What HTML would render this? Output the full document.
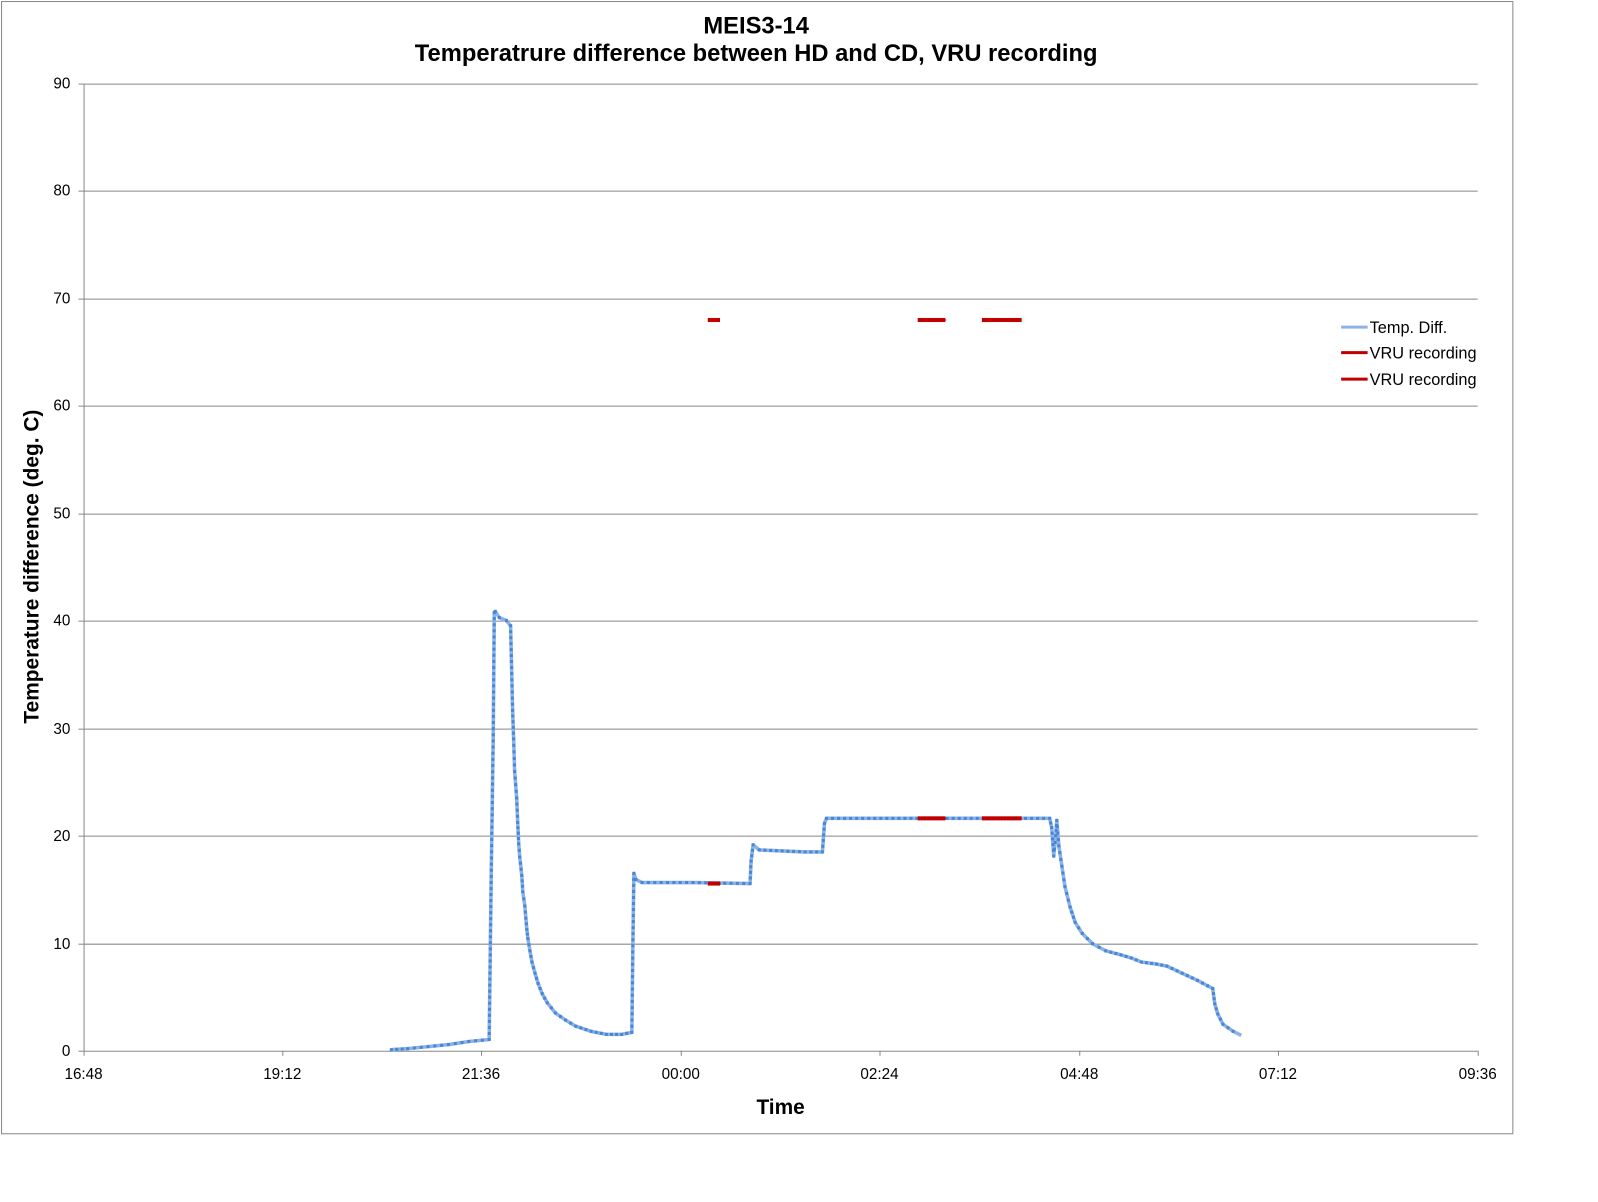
<!DOCTYPE html>
<html><head><meta charset="utf-8"><style>
body{margin:0;background:#fff}
svg{display:block;font-family:"Liberation Sans",Arial,sans-serif}
</style></head><body>
<svg id="s" width="1598" height="1202" xmlns="http://www.w3.org/2000/svg">
<g transform="scale(1.0191)">
<rect x="1.5" y="1.5" width="1483" height="1111" fill="#fff" stroke="#888" stroke-width="1"/>
<g stroke="#888" stroke-width="1">
<line x1="82" y1="82.5" x2="1450" y2="82.5"/>
<line x1="82" y1="187.5" x2="1450" y2="187.5"/>
<line x1="82" y1="293.5" x2="1450" y2="293.5"/>
<line x1="82" y1="398.5" x2="1450" y2="398.5"/>
<line x1="82" y1="504.5" x2="1450" y2="504.5"/>
<line x1="82" y1="609.5" x2="1450" y2="609.5"/>
<line x1="82" y1="715.5" x2="1450" y2="715.5"/>
<line x1="82" y1="820.5" x2="1450" y2="820.5"/>
<line x1="82" y1="926.5" x2="1450" y2="926.5"/>
<line x1="82" y1="1031.5" x2="1450" y2="1031.5"/>
<line x1="82.5" y1="82" x2="82.5" y2="1036"/>
<line x1="77" y1="82.5" x2="82" y2="82.5"/><line x1="77" y1="187.5" x2="82" y2="187.5"/><line x1="77" y1="293.5" x2="82" y2="293.5"/><line x1="77" y1="398.5" x2="82" y2="398.5"/><line x1="77" y1="504.5" x2="82" y2="504.5"/><line x1="77" y1="609.5" x2="82" y2="609.5"/><line x1="77" y1="715.5" x2="82" y2="715.5"/><line x1="77" y1="820.5" x2="82" y2="820.5"/><line x1="77" y1="926.5" x2="82" y2="926.5"/><line x1="77" y1="1031.5" x2="82" y2="1031.5"/>
<line x1="277.5" y1="1031" x2="277.5" y2="1036"/><line x1="472.5" y1="1031" x2="472.5" y2="1036"/><line x1="668.5" y1="1031" x2="668.5" y2="1036"/><line x1="863.5" y1="1031" x2="863.5" y2="1036"/><line x1="1059.5" y1="1031" x2="1059.5" y2="1036"/><line x1="1254.5" y1="1031" x2="1254.5" y2="1036"/><line x1="1450.5" y1="1031" x2="1450.5" y2="1036"/>
</g>
<g font-size="15" fill="#000" text-anchor="end">
<text x="69" y="87">90</text><text x="69" y="192">80</text><text x="69" y="298">70</text><text x="69" y="403">60</text><text x="69" y="509">50</text><text x="69" y="614">40</text><text x="69" y="720">30</text><text x="69" y="825">20</text><text x="69" y="931">10</text><text x="69" y="1036">0</text>
</g>
<g font-size="15" fill="#000" text-anchor="middle">
<text x="82" y="1059">16:48</text><text x="277" y="1059">19:12</text><text x="472" y="1059">21:36</text><text x="668" y="1059">00:00</text><text x="863" y="1059">02:24</text><text x="1059" y="1059">04:48</text><text x="1254" y="1059">07:12</text><text x="1450" y="1059">09:36</text>
</g>
<g font-weight="bold" text-anchor="middle" fill="#000">
<text x="742" y="33" font-size="23.3">MEIS3-14</text>
<text x="742" y="60" font-size="23.3">Temperatrure difference between HD and CD, VRU recording</text>
<text x="766" y="1093" font-size="20.5">Time</text>
<text transform="translate(38,556) rotate(-90)" font-size="20.5">Temperature difference (deg. C)</text>
</g>
<polyline id="blue" fill="none" stroke="#8cb3e6" stroke-width="3.5" stroke-linejoin="round" points="384,1030 400,1029 420,1027 440,1025 460,1022 480,1020 482,860 484,721 485,601 486,600 490,606 497,609 501,614 502,655 503,697 504,725 505,757 507,783 508,807 509,828 510,841 512,859 513,875 515,889 516,901 517,912 518,921 520,933 522,944 525,955 528,965 532,975 537,984 545,994 555,1001 565,1007 580,1012 595,1015 610,1015 620,1013 621,928 622,857 624,863 630,866 680,866 736,867 737,845 739,829 745,834 790,836 807,836 809,808 811,803 1030,803 1032,812 1034,840 1036,820 1037,805 1039,830 1042,850 1045,870 1050,890 1055,905 1062,916 1072,926 1085,933 1100,937 1110,940 1120,944 1135,946 1145,948 1160,955 1175,962 1190,970 1192,985 1195,995 1200,1005 1210,1012 1218,1016"/>
<g id="mk" fill="#4a86d6"></g>
<g stroke="#c00000" stroke-width="2.5">
<line x1="696" y1="314" x2="706" y2="314"/><line x1="902" y1="314" x2="928" y2="314"/><line x1="965" y1="314" x2="1002" y2="314"/>
<line x1="696" y1="867" x2="707" y2="867"/><line x1="902" y1="803" x2="928" y2="803"/><line x1="965" y1="803" x2="1002" y2="803"/>
</g>
<g id="rmk" fill="#c00000"></g>
<line x1="1316" y1="321" x2="1342" y2="321" stroke="#8cb3e6" stroke-width="3"/>
<line x1="1316" y1="346" x2="1342" y2="346" stroke="#c00000" stroke-width="3"/>
<line x1="1316" y1="372" x2="1342" y2="372" stroke="#c00000" stroke-width="3"/>
<g font-size="16" fill="#000">
<text x="1344" y="327">Temp. Diff.</text>
<text x="1344" y="352">VRU recording</text>
<text x="1344" y="378">VRU recording</text>
</g>
</g>
</svg>
<script>
var pts=document.getElementById('blue').getAttribute('points').trim().split(/\s+/).map(function(p){return p.split(',').map(Number)});
var g=document.getElementById('mk'),h='';
for(var i=1;i<pts.length;i++){var a=pts[i-1],b=pts[i],d=Math.hypot(b[0]-a[0],b[1]-a[1]),n=Math.max(1,Math.round(d/6));
for(var k=0;k<n;k++){var x=a[0]+(b[0]-a[0])*k/n,y=a[1]+(b[1]-a[1])*k/n;h+='<rect x="'+(x-1.5)+'" y="'+(y-1.5)+'" width="3" height="3"/>';}}
g.innerHTML=h;
var r='',segs=[[696,706,314],[902,928,314],[965,1002,314],[696,707,867],[902,928,803],[965,1002,803]];
segs.forEach(function(s){for(var x=s[0];x<=s[1];x+=3)r+='<rect x="'+(x-1.5)+'" y="'+(s[2]-2)+'" width="3" height="4"/>';});
document.getElementById('rmk').innerHTML=r;
</script>
</body></html>
